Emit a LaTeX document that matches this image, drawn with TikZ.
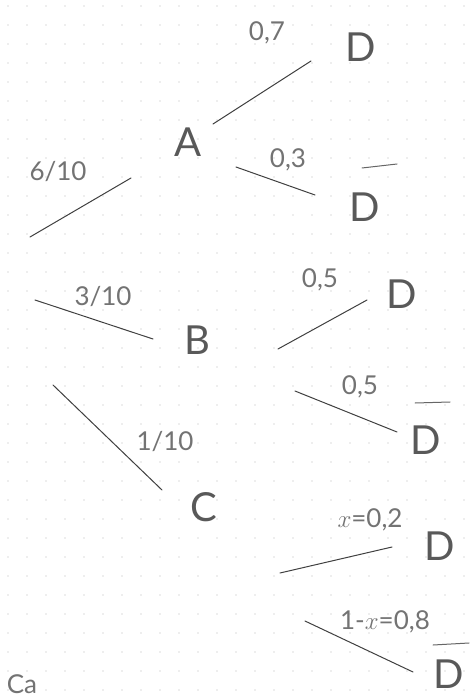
\documentclass[tikz,border=0pt]{standalone}
\usepackage{fontspec}
\setmainfont{Lato}

\begin{document}
\begin{tikzpicture}[x=1pt, y=-1pt,
  ev/.style={inner sep=0pt, text=black!65, font=\fontsize{40}{42}\selectfont},
  pr/.style={inner sep=0pt, text=black!55, font=\fontsize{26}{28}\selectfont},
  branch/.style={draw=black!75, line width=1pt, line cap=round},
  bar/.style={draw=black!60, line width=1pt, line cap=round}]
\clip (0,0) rectangle (472,700);
\fill[white] (0,0) rectangle (472,700);
\foreach \i in {0,...,24} \foreach \j in {0,...,36}
  \fill[black!28] (8+19*\i,6+19*\j) circle[radius=0.6pt];
\coordinate (root) at (-40,282);
\node[ev] (A) at (188,142) {A};
\node[ev] (B) at (197,340) {B};
\node[ev] (C) at (204,507) {C};
\node[ev] (dA) at (361,47) {D};
\node[ev] (nA) at (365,207) {D};
\node[ev] (dB) at (402,294) {D};
\node[ev] (nB) at (426,440) {D};
\node[ev] (dC) at (440,546) {D};
\node[ev] (nC) at (449,674) {D};
\node[pr] (pA) at (58,172) {6/10};
\node[pr] (pB) at (103,297) {3/10};
\node[pr] (pC) at (165,442) {1/10};
\node[pr] (pAd) at (267,33) {0,7};
\node[pr] (pAn) at (288,160) {0,3};
\node[pr] (pBd) at (320,280) {0,5};
\node[pr] (pBn) at (360,387) {0,5};
\node[pr] (pCd) at (370,520) {$x$=0,2};
\node[pr] (pCn) at (385,622) {1-$x$=0,8};
\node[pr] (note) at (22,684) {Ca};
% complement bars
\foreach \n/\s/\e in {nA/{(-3,-39)}/{(32,-43)}, nB/{(-11,-37)}/{(24,-38)}, nC/{(-16,-29)}/{(20,-31)}}
  \draw[bar] ([shift=\s]\n.center) -- ([shift=\e]\n.center);
% branches
\foreach \p/\q/\s/\e in {root/A/{(70,-45)}/{(-57,36)}, root/B/{(75,18)}/{(-44,-1)},
    root/C/{(93,103)}/{(-42,-17)}, A/dA/{(25,-18)}/{(-50,14)}, A/nA/{(48,25)}/{(-50,-12)},
    B/dB/{(81,9)}/{(-35,6)}, B/nB/{(98,51)}/{(-29,-8)}, C/dC/{(76,66)}/{(-48,1)},
    C/nC/{(101,114)}/{(-36,-2)}}
  \draw[branch] ([shift=\s]\p.center) -- ([shift=\e]\q.center);
\end{tikzpicture}
\end{document}
